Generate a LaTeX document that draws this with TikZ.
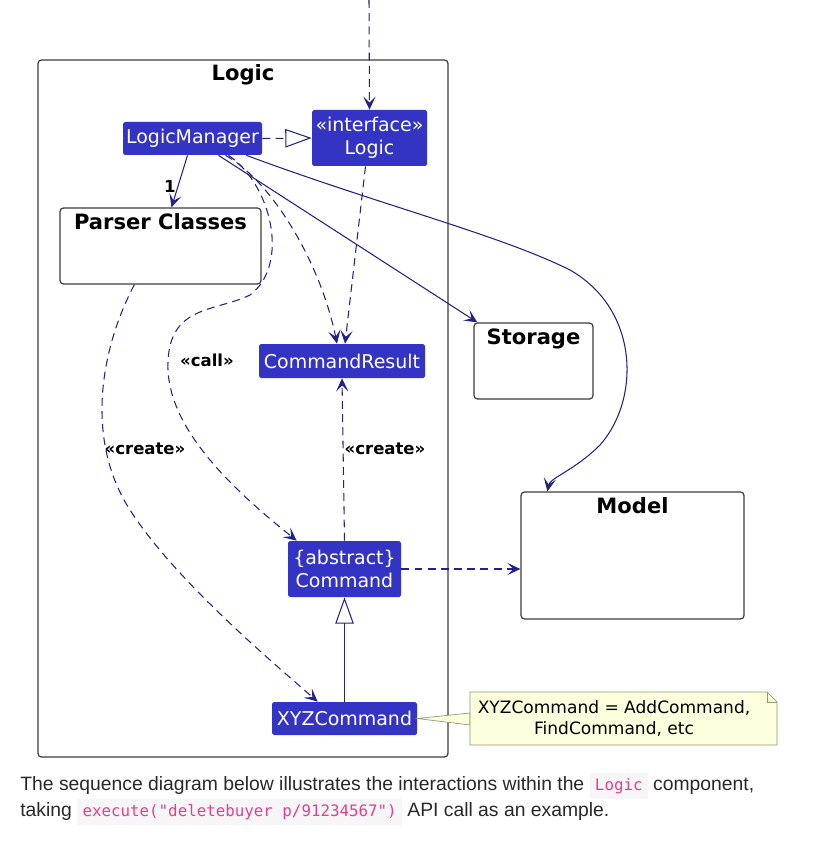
\documentclass[tikz,border=0pt]{standalone}
\usepackage{fontspec}
\setmainfont{DejaVu Sans}
\setmonofont{DejaVu Sans Mono}
\newfontfamily\bodyfont{Liberation Sans}
\usetikzlibrary{arrows.meta,calc}
\definecolor{boxblue}{RGB}{52,52,196}
\definecolor{linkblue}{RGB}{34,34,136}
\definecolor{framegray}{RGB}{60,60,60}
\definecolor{notefill}{RGB}{254,255,221}
\definecolor{noteline}{RGB}{150,150,120}
\definecolor{codepink}{RGB}{232,62,140}
\definecolor{codebg}{RGB}{246,246,248}
\definecolor{captiongray}{RGB}{40,40,40}
\newcommand{\pxu}{0.02cm}
\newcommand{\inlinecode}[1]{{\setlength{\fboxsep}{3pt}\colorbox{codebg}{\textcolor{codepink}{\ttfamily\fontsize{9}{10}\selectfont #1}}}}
\tikzset{
  classbox/.style={fill=boxblue, text=white, rounded corners=1pt, inner sep=0pt, align=center, font=\fontsize{10.8}{13.2}\selectfont},
  pkgbox/.style={draw=framegray, fill=white, rounded corners=2pt, line width=0.7pt},
  pkgtitle/.style={font=\bfseries\fontsize{12}{14}\selectfont, inner sep=3.5pt},
  stereo/.style={font=\bfseries\fontsize{9.4}{11}\selectfont, inner sep=1pt},
  link/.style={draw=linkblue, line width=0.6pt, -{Stealth[length=7.5pt,width=7pt,inset=3.5pt]}},
  deplink/.style={link, dash pattern=on 4.5pt off 3pt},
  inherit/.style={draw=linkblue, line width=0.6pt, -{Triangle[open,length=15pt,width=10.5pt]}},
  caption/.style={anchor=base west, inner sep=0pt, text=captiongray, font=\bodyfont\fontsize{11}{13}\selectfont}
}

\begin{document}
\begin{tikzpicture}[x=0.02cm, y=-0.02cm]
     \useasboundingbox (0,0) rectangle (834,851);
     \draw [pkgbox] (38,60) rectangle (448,757);
     \node [pkgtitle, inner sep=1pt] (logictitle) at (243,75) {Logic};
     \node [classbox, minimum width={139*\pxu}, minimum height={33*\pxu}] (lm) at (192.5,138.5) {LogicManager};
     \node [classbox, minimum width={115*\pxu}, minimum height={56*\pxu}] (logic) at (369.5,138) {«interface»\\Logic};
     \node [pkgbox, minimum width={201*\pxu}, minimum height={76*\pxu}] (parser) at (160.5,246) {};
     \node [pkgtitle, below] (parsertitle) at (parser.north) {Parser Classes};
     \node [classbox, minimum width={166*\pxu}, minimum height={34*\pxu}] (cmdresult) at (342,361) {CommandResult};
     \node [classbox, minimum width={113*\pxu}, minimum height={56*\pxu}] (cmd) at (344.5,569) {\{abstract\}\\Command};
     \node [classbox, minimum width={145*\pxu}, minimum height={33*\pxu}] (xyz) at (344.5,718.5) {XYZCommand};
     \node [pkgbox, minimum width={119*\pxu}, minimum height={76*\pxu}] (storage) at (533.5,361) {};
     \node [pkgtitle, below] (storagetitle) at (storage.north) {Storage};
     \node [pkgbox, minimum width={223*\pxu}, minimum height={127*\pxu}] (model) at (632.5,555.5) {};
     \node [pkgtitle, below] (modeltitle) at (model.north) {Model};
     \coordinate (entry) at (369,0);
     \draw [deplink] (entry) -- (logic.north);
     \draw [inherit, dash pattern=on 4.5pt off 3pt] (lm.east) -- (logic.west);
     \draw [link] ($(lm.south)+(-5,0)$) -- node [stereo, pos=0.6, left] {1} ($(parser.north)+(11,0)$);
     \draw [link] ($(lm.south)+(26,0)$) -- ($(storage.north west)+(4,0)$);
     \draw [link] ($(lm.south east)+(-16,0)$) .. controls (380,205) and (500,235) .. (570,270)
           .. controls (640,310) and (640,400) .. (600,445) .. controls (575,470) and (550,478) .. ($(model.north west)+(27,0)$);
     \draw [deplink] ($(lm.south)+(33,0)$) .. controls (270,180) and (320,260) .. ($(cmdresult.north)+(-5,0)$);
     \draw [deplink] ($(logic.south)+(-4,0)$) -- ($(cmdresult.north)+(3,0)$);
     \draw [deplink] ($(lm.south)+(36,0)$) .. controls (272,185) and (290,265) .. (250,295)
           .. controls (215,312) and (170,305) .. (168,362) .. controls (165,430) and (240,495) .. ($(cmd.north west)+(9,0)$);
     \node [stereo] (calllabel) at (207,360) {«call»};
     \draw [deplink] ($(parser.south west)+(75,0)$) .. controls (100,350) and (85,440) .. (130,510)
           .. controls (175,580) and (270,660) .. ($(xyz.north west)+(46,0)$);
     \node [stereo] (createlabel) at (145,449) {«create»};
     \draw [deplink] (cmd.north) -- (cmdresult.south);
     \node [stereo] (resultlabel) at (385,449) {«create»};
     \draw [deplink] (cmd.east) -- (cmd.east -| model.west);
     \draw [inherit] (xyz.north) -- (cmd.south);
     \coordinate (notetop) at (470,713);
     \coordinate (notebot) at (470,725);
     \draw [noteline, fill=notefill] (xyz.east) -- (notetop) -- (notebot) -- cycle;
     \draw [noteline, fill=notefill] (470,692) -- (767,692) -- (777,702) -- (777,745) -- (470,745) -- cycle;
     \draw [noteline] (767,692) -- (767,702) -- (777,702);
     \node [align=center, font=\fontsize{9.7}{11.8}\selectfont, inner sep=0pt] (notetext) at (614,718.5) {XYZCommand = AddCommand,\\FindCommand, etc};
     \node [caption] (caption1) at (20,790) {The sequence diagram below illustrates the interactions within the \inlinecode{Logic} component,};
     \node [caption] (caption2) at (20,816) {taking \inlinecode{execute("deletebuyer p/91234567")} API call as an example.};
\end{tikzpicture}
\end{document}
